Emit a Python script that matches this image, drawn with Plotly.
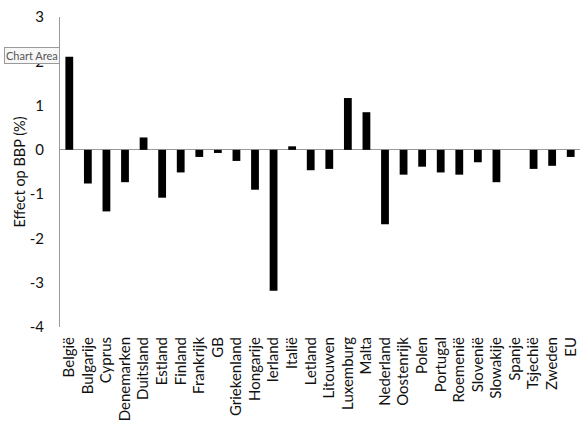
import plotly.graph_objects as go

countries = ["België", "Bulgarije", "Cyprus", "Denemarken", "Duitsland", "Estland",
             "Finland", "Frankrijk", "GB", "Griekenland", "Hongarije", "Ierland",
             "Italië", "Letland", "Litouwen", "Luxemburg", "Malta", "Nederland",
             "Oostenrijk", "Polen", "Portugal", "Roemenië", "Slovenië", "Slowakije",
             "Spanje", "Tsjechië", "Zweden", "EU"]
effect = [2.10, -0.76, -1.39, -0.73, 0.28, -1.08,
          -0.51, -0.16, -0.07, -0.25, -0.90, -3.18,
          0.08, -0.46, -0.43, 1.17, 0.85, -1.68,
          -0.56, -0.38, -0.51, -0.56, -0.28, -0.73,
          0.0, -0.43, -0.36, -0.16]
y_ticks = [-4, -3, -2, -1, 0, 1, 2, 3]
y_tick_text = ["-4", "-3", "-2", "-1", "0", "1", "2", "3"]

font = "Lato, Noto Sans, sans-serif"

fig = go.Figure(go.Bar(x=countries, y=effect, marker=dict(color="black", line=dict(width=0))))

fig.update_layout(
    width=584, height=421,
    margin=dict(l=60, r=4, t=17, b=94),
    paper_bgcolor="white", plot_bgcolor="white",
    bargap=0.58,
    showlegend=False,
    font=dict(family=font, size=14, color="#111"),
)
fig.update_xaxes(
    tickangle=-90, showgrid=False, showline=False, ticks="",
    tickfont=dict(family=font, size=15, color="#111"),
    ticklabelstandoff=6,
    automargin=False,
)
fig.update_yaxes(
    range=[-4, 3], tickvals=y_ticks, ticktext=y_tick_text, showgrid=False,
    showline=True, linecolor="#999", linewidth=1, ticks="",
    zeroline=True, zerolinecolor="#999", zerolinewidth=1,
    tickfont=dict(family=font, size=15, color="#111"),
    ticklabelstandoff=12,
    title=dict(text="Effect op BBP (%)", font=dict(family=font, size=14.5, color="#111"), standoff=0),
    automargin=False,
)
fig.add_annotation(
    xref="paper", yref="paper", x=-0.107, y=0.902, xanchor="left", yanchor="top",
    text="Chart Area", showarrow=False, font=dict(family=font, size=11, color="#555"),
    bgcolor="#f7f7f7", bordercolor="#9a9a9a", borderwidth=1, borderpad=1,
)

fig.write_html("out.html", config={"displayModeBar": False})

with open("out.html", encoding="utf-8") as f:
    html = f.read()
html = html.replace("<head>", "<head><style>html,body{margin:0;padding:0;overflow:hidden;}</style>", 1)
with open("out.html", "w", encoding="utf-8") as f:
    f.write(html)
